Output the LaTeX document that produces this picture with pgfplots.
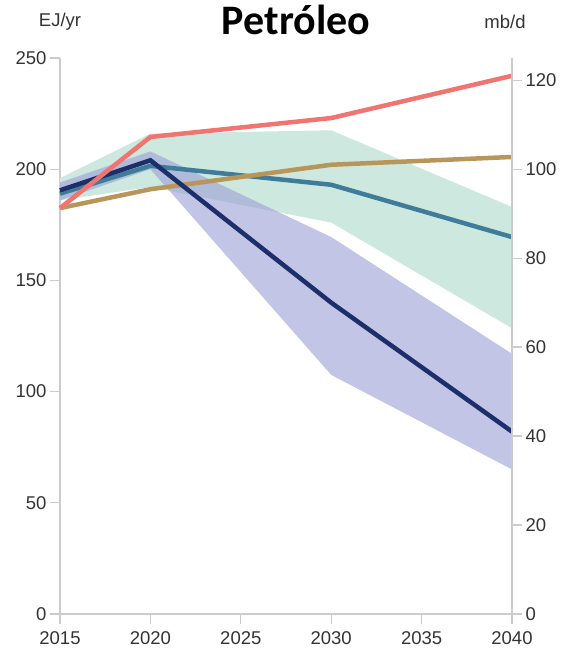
\documentclass[border=0pt]{standalone}
\usepackage{pgfplots}
\pgfplotsset{compat=1.18}
\usepackage{fontspec}
\setmainfont{Liberation Sans}
\newfontfamily\titlefont{Carlito}

\definecolor{cRed}{HTML}{F07470}
\definecolor{cGold}{HTML}{B8965A}
\definecolor{cTeal}{HTML}{3F7C9A}
\definecolor{cNavy}{HTML}{1C2F6B}
\definecolor{cGreen}{HTML}{CDE8DF}
\definecolor{cPurple}{RGB}{155,158,213}
\definecolor{cAxis}{HTML}{CCCCCC}
\definecolor{cText}{HTML}{333333}

\pgfplotsset{
  base/.style={
    scale only axis, width=452pt, height=556pt,
    at={(0,0)}, anchor=south west,
    xmin=2015, xmax=2040,
    axis line style={cAxis, line width=1.3pt},
    major tick style={cAxis, line width=1.3pt},
    major tick length=10pt,
    tick align=outside,
    ticklabel style={font=\fontsize{18.5}{22}\selectfont, text=cText},
    /pgf/number format/assume math mode=true,
  }
}

\begin{document}
\begin{tikzpicture}
\begin{axis}[base,
  axis x line*=bottom, axis y line*=left,
  ymin=0, ymax=250,
  xtick={2015,2020,...,2040},
  x tick label style={/pgf/number format/1000 sep={}},
  ytick={0,50,...,250},
  xticklabel style={yshift=-4pt},
  clip=false,
]
% scenario ranges
\addplot[draw=none, fill=cGreen] coordinates {
  (2015,196) (2020,216) (2030,217.5) (2040,183)
  (2040,128.5) (2030,176) (2020,192) (2015,186)};
\addplot[draw=none, fill=cPurple, fill opacity=0.6] coordinates {
  (2015,194) (2020,208) (2030,169.5) (2040,117)
  (2040,65) (2030,107.5) (2020,200) (2015,186)};
% scenario lines
\addplot[cTeal, line width=4.5pt] coordinates {
  (2015,189) (2020,201.5) (2030,193) (2040,169.5)};
\addplot[cGold, line width=4.5pt] coordinates {
  (2015,182.5) (2020,191) (2030,202) (2040,205.5)};
\addplot[cNavy, line width=4.5pt] coordinates {
  (2015,190.5) (2020,204) (2030,140) (2040,82)};
\addplot[cRed, line width=4.5pt] coordinates {
  (2015,182.5) (2020,214.5) (2030,223) (2040,242)};
\end{axis}
\begin{axis}[base,
  axis y line*=right, axis x line=none,
  ymin=0, ymax=125,
  ytick={0,20,...,120},
]
\addplot[draw=none] coordinates {(2015,0)};
\end{axis}
\node[font=\titlefont\bfseries\fontsize{42}{46}\selectfont] at (236pt,594pt) {Petróleo};
\node[font=\fontsize{18.5}{22}\selectfont, text=cText] at (0pt,592pt) {EJ/yr};
\node[font=\fontsize{18.5}{22}\selectfont, text=cText] at (445pt,592pt) {mb/d};
\pgfresetboundingbox
\path (-60pt,-40pt) rectangle (502pt,614pt);
\end{tikzpicture}
\end{document}
